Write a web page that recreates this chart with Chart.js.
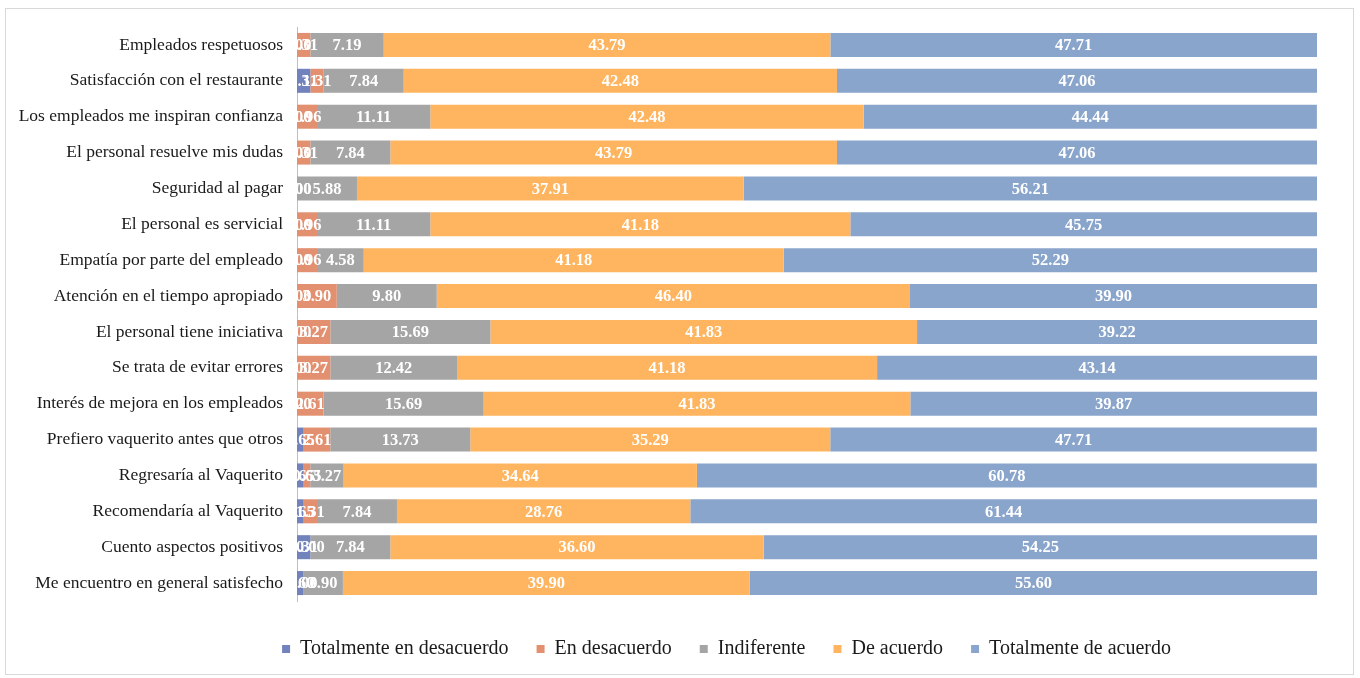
<!DOCTYPE html>
<html><head><meta charset="utf-8">
<script src="https://cdn.jsdelivr.net/npm/chart.js@4/dist/chart.umd.min.js"></script>
<style>
html,body{margin:0;padding:0;background:#fff;}
#wrap{position:relative;width:1360px;height:678px;}
#frame{position:absolute;left:5px;top:8px;width:1349px;height:667px;border:1px solid #d9d9d9;box-sizing:border-box;}
canvas{position:absolute;left:0;top:0;}
</style></head>
<body>
<div id="wrap"><div id="frame"></div><canvas id="c" width="1360" height="678"></canvas></div>
<script>
const categories = [
  "Empleados respetuosos",
  "Satisfacción con el restaurante",
  "Los empleados me inspiran confianza",
  "El personal resuelve mis dudas",
  "Seguridad al pagar",
  "El personal es servicial",
  "Empatía por parte del empleado",
  "Atención en el tiempo apropiado",
  "El personal tiene iniciativa",
  "Se trata de evitar errores",
  "Interés de mejora en los empleados",
  "Prefiero vaquerito antes que otros",
  "Regresaría al Vaquerito",
  "Recomendaría al Vaquerito",
  "Cuento aspectos positivos",
  "Me encuentro en general satisfecho"
];
const seriesNames = ["Totalmente en desacuerdo","En desacuerdo","Indiferente","De acuerdo","Totalmente de acuerdo"];
const totDesacuerdo = [0.00,1.31,0.00,0.00,0.00,0.00,0.00,0.00,0.00,0.00,0.00,0.65,0.65,0.65,1.31,0.60];
const enDesacuerdo  = [1.31,1.31,1.96,1.31,0.00,1.96,1.96,3.90,3.27,3.27,2.61,2.61,0.65,1.31,0.00,0.00];
const indiferente   = [7.19,7.84,11.11,7.84,5.88,11.11,4.58,9.80,15.69,12.42,15.69,13.73,3.27,7.84,7.84,3.90];
const deAcuerdo     = [43.79,42.48,42.48,43.79,37.91,41.18,41.18,46.40,41.83,41.18,41.83,35.29,34.64,28.76,36.60,39.90];
const totAcuerdo    = [47.71,47.06,44.44,47.06,56.21,45.75,52.29,39.90,39.22,43.14,39.87,47.71,60.78,61.44,54.25,55.60];
const colors = ["#7282bd","#e2906f","#a5a5a5","#ffb55f","#8aa5cb"];
const seriesData = [totDesacuerdo, enDesacuerdo, indiferente, deAcuerdo, totAcuerdo];
const serif = '"Liberation Serif", "Times New Roman", serif';

const labelPlugin = {
  id: 'barLabels',
  afterDatasetsDraw(chart) {
    const ctx = chart.ctx;
    ctx.save();
    ctx.font = 'bold 16.5px ' + serif;
    ctx.fillStyle = '#ffffff';
    ctx.textAlign = 'center';
    ctx.textBaseline = 'middle';
    chart.data.datasets.forEach((ds, di) => {
      const meta = chart.getDatasetMeta(di);
      meta.data.forEach((el, i) => {
        const p = el.getProps(['x','y','base'], true);
        ctx.fillText(Number(ds.data[i]).toFixed(2), (p.x + p.base) / 2, p.y + 1);
      });
    });
    ctx.restore();
  }
};

const legendTweak = {
  id: 'legendTweak',
  beforeInit(chart) {
    if (!chart.legend) return;
    const orig = chart.legend.fit;
    chart.legend.fit = function () {
      orig.call(this);
      this.height = 67;
    };
  },
  afterLayout(chart) {
    if (!chart.legend) return;
    chart.legend.left += 68;
    chart.legend.right += 68;
  }
};

new Chart(document.getElementById('c'), {
  type: 'bar',
  data: {
    labels: categories,
    datasets: seriesNames.map((n, k) => ({
      label: n,
      data: seriesData[k],
      backgroundColor: colors[k],
      borderWidth: 0,
      categoryPercentage: 1,
      barPercentage: 0.67
    }))
  },
  options: {
    indexAxis: 'y',
    responsive: false,
    animation: false,
    layout: { padding: { top: 27, right: 43, bottom: 0, left: 0 } },
    scales: {
      x: {
        stacked: true, min: 0, max: 100,
        ticks: { display: false },
        grid: { display: false },
        border: { display: false },
        afterFit(scale) { scale.height = 10; }
      },
      y: {
        stacked: true,
        grid: { display: false, drawTicks: false },
        border: { display: true, color: '#bfbfbf', width: 1 },
        ticks: {
          padding: 14,
          color: '#1a1a1a',
          font: { family: serif, size: 17.5 }
        },
        afterFit(scale) { scale.width = 297; }
      }
    },
    plugins: {
      legend: {
        position: 'bottom',
        labels: {
          boxWidth: 8, boxHeight: 8, padding: 28,
          color: '#1a1a1a',
          font: { family: serif, size: 20 }
        }
      },
      tooltip: { enabled: false }
    }
  },
  plugins: [labelPlugin, legendTweak]
});
</script>
</body></html>
